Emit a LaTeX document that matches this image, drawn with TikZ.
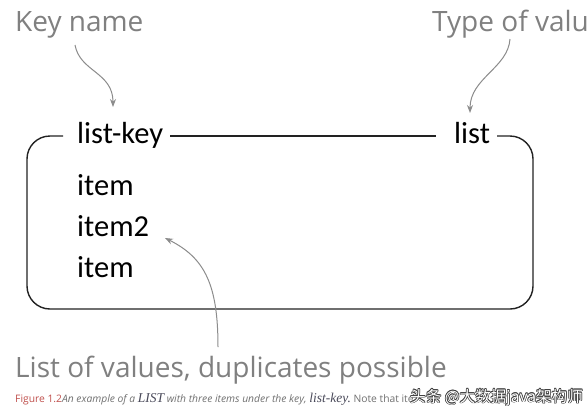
\documentclass[tikz,border=0pt]{standalone}
\usepackage{fontspec}
\setmainfont{Carlito}
\newfontfamily\greyfont{Open Sans}
\newfontfamily\capfont{Open Sans}
\newfontfamily\capserif{Liberation Serif}
\newfontfamily\cjkfont{Noto Sans CJK SC}
\usetikzlibrary{arrows.meta}
\definecolor{labelgrey}{HTML}{808080}
\definecolor{arrowgrey}{HTML}{8C8C8C}
\definecolor{boxline}{HTML}{222222}
\definecolor{figred}{HTML}{C0504D}
\definecolor{capgrey}{HTML}{707070}
\definecolor{capdark}{HTML}{4A4A5A}
\tikzset{
  greylabel/.style={anchor=base west, inner sep=0pt, text=labelgrey, font=\greyfont\fontsize{28}{32}\selectfont},
  boxtext/.style={anchor=base west, inner sep=0pt, text=black, font=\fontsize{30.5}{34}\selectfont},
  pointer/.style={draw=arrowgrey, line width=1pt, -{Stealth[length=8pt,width=6pt]}},
  frame/.style={draw=boxline, line width=1.4pt},
  wmshadow/.style={anchor=base west, inner sep=0pt, text=black!75, font=\cjkfont\fontsize{15.6}{18}\selectfont},
  wmtext/.style={anchor=base west, inner sep=0pt, text=white, font=\cjkfont\fontsize{15.6}{18}\selectfont}
}
\begin{document}
\begin{tikzpicture}[x=1pt,y=-1pt]
\fill[white] (0,0) rectangle (588,407);
\useasboundingbox (0,0) rectangle (588,407);
% labels
\node[greylabel] (keyname) at (15,31) {Key name};
\node[greylabel] (typeval) at (432,31) {Type of valu};
\node[greylabel] (values) at (15,377) {List of values, duplicates possible};
% box texts
\node[boxtext] (listkey) at (77,143) {list-key};
\node[boxtext] (listtype) at (454,143) {list};
\node[boxtext] (item1) at (77,195) {item};
\node[boxtext] (item2) at (77,236) {item2};
\node[boxtext] (item3) at (77,277) {item};
% frame
\coordinate (tl) at (63,136);
\coordinate (tr) at (497,136);
\coordinate (la) at (170,136);
\coordinate (lb) at (436,136);
\draw[frame, rounded corners=23pt] (tl) -- (27,136) -- (27,309) -- (533,309) -- (533,136) -- (tr);
\draw[frame] (la) -- (lb);
% pointers
\coordinate (ka) at (75,45);
\coordinate (kb) at (113,107);
\coordinate (ta) at (510,39);
\coordinate (tb) at (470,113);
\coordinate (va) at (218,347);
\coordinate (vb) at (165,238);
\draw[pointer] (ka) .. controls (80,72) and (113,72) .. (kb);
\draw[pointer] (ta) .. controls (508,68) and (470,78) .. (tb);
\draw[pointer] (va) .. controls (218,285) and (205,258) .. (vb);
% caption
\node[anchor=base west, inner sep=0pt, font=\capfont\fontsize{10.3}{12}\selectfont] (caption) at (15,402)
  {\textcolor{figred}{Figure 1.2}\textcolor{capgrey}{\itshape An example of a }\textcolor{capdark}{\capserif\itshape\fontsize{13.5}{15}\selectfont LIST}\textcolor{capgrey}{\itshape{} with three items under the key, }\textcolor{capdark}{\capserif\itshape\fontsize{13.5}{15}\selectfont list-key.}\textcolor{capgrey}{\ Note that ite}};
% watermark
\foreach \dx/\dy in {-0.7/0,0.7/0,0/-0.7,0/0.7,-0.5/-0.5,0.5/0.5,-0.5/0.5,0.5/-0.5}{
  \node[wmshadow] at (410+\dx,402+\dy) {头条 @大数据java架构师};
}
\node[wmtext] (watermark) at (410,402) {头条 @大数据java架构师};
\end{tikzpicture}
\end{document}
